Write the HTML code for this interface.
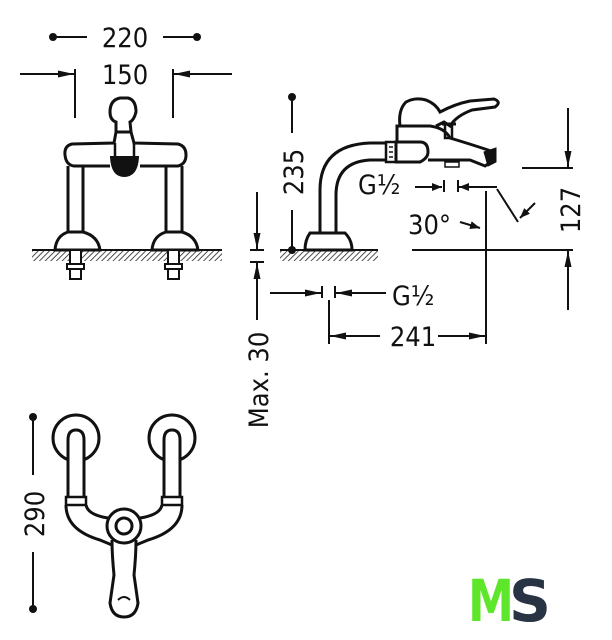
<!DOCTYPE html>
<html><head><meta charset="utf-8"><style>
html,body{margin:0;padding:0;background:#fff;width:612px;height:640px;overflow:hidden}
svg{display:block}
text{font-family:"DejaVu Sans Condensed","Liberation Sans",sans-serif;fill:#111}
</style></head><body>
<svg width="612" height="640" viewBox="0 0 612 640" xmlns="http://www.w3.org/2000/svg">
<defs>
<pattern id="h" width="4" height="4" patternUnits="userSpaceOnUse" patternTransform="rotate(45)">
<line x1="0" y1="0" x2="0" y2="4" stroke="#222" stroke-width="1.6"/></pattern>
<marker id="a" markerWidth="10" markerHeight="8" refX="10" refY="4" orient="auto" markerUnits="userSpaceOnUse"><path d="M0,0 L10,4 L0,8z" fill="#111"/></marker>
<marker id="b" markerWidth="16" markerHeight="8" refX="16" refY="4" orient="auto" markerUnits="userSpaceOnUse"><path d="M0,0.5 L16,4 L0,7.5z" fill="#111"/></marker>
</defs>
<g stroke="#111" stroke-width="2" fill="none">
<line x1="53" y1="37" x2="87" y2="37"/><line x1="163" y1="37" x2="197" y2="37"/>
<line x1="75" y1="69" x2="75" y2="118"/><line x1="173" y1="69" x2="173" y2="118"/>
<line x1="20" y1="74" x2="74" y2="74" marker-end="url(#b)"/>
<line x1="232" y1="74" x2="174" y2="74" marker-end="url(#b)"/>
<path d="M110,112 Q110,100 120,98 L128,98 Q136,100 136,112 Q134,120 130,122 L131,132 L116,132 L116,122 Q110,120 110,112z" stroke-width="3"/>
<path d="M116,132 L114,143 L72,144 Q64,146 65,155 Q66,165 74,166 L110,166 M140,166 L178,166 Q186,164 186,155 Q186,146 178,144 L134,143 L131,132" stroke-width="3"/>
<path d="M111,157 Q112,176 124,176 Q137,176 138,157z" fill="#111"/>
<path d="M115,143 L115,157 M134,143 L134,157" stroke-width="2.5"/>
<path d="M68,166 L68,232 M83,166 L83,232 M166,166 L166,232 M182,166 L182,232" stroke-width="3"/>
<path d="M68,232 L83,232 Q98,236 100,250 L55,250 Q56,236 68,232z M166,232 L182,232 Q196,236 198,250 L152,250 Q153,236 166,232z" stroke-width="3"/>
<rect x="32" y="250" width="190" height="11" fill="url(#h)" stroke="none"/>
<line x1="32" y1="250" x2="222" y2="250" stroke-width="2"/>
<rect x="70" y="250" width="11" height="14" fill="#fff"/><rect x="67" y="264" width="17" height="5" fill="#fff"/><rect x="70" y="269" width="11" height="10" fill="#fff"/>
<rect x="168" y="250" width="11" height="14" fill="#fff"/><rect x="165" y="264" width="17" height="5" fill="#fff"/><rect x="168" y="269" width="11" height="10" fill="#fff"/>
<line x1="257" y1="192" x2="257" y2="249" marker-end="url(#b)"/>
<line x1="250" y1="250" x2="264" y2="250"/><line x1="250" y1="262" x2="264" y2="262"/>
<line x1="257" y1="320" x2="257" y2="263" marker-end="url(#b)"/>
<line x1="292" y1="97" x2="292" y2="133"/><line x1="292" y1="210" x2="292" y2="250"/>
<rect x="280" y="250" width="98" height="11" fill="url(#h)" stroke="none"/>
<line x1="280" y1="250" x2="378" y2="250"/>
<path d="M310,233 L345,233 Q352,240 352,250 L305,250 Q305,240 310,233z" stroke-width="3"/>
<path d="M320,233 L320,190 Q320,145 370,143 L386,143 M336,233 L336,195 Q336,162 370,160 L386,160" stroke-width="3"/>
<rect x="386" y="142" width="10" height="20" stroke-width="2.5"/>
<path d="M389,147 L393,147 M389,152 L393,152 M389,157 L393,157" stroke-width="1.5"/>
<path d="M396,142 L396,162 L420,162 Q428,158 428,152 Q428,142 420,142z" stroke-width="3"/>
<path d="M397,142 L397,126 L430,126 Q445,128 450,138 Q470,144 488,150 Q496,154 494,160 L485,166 L470,160 L428,160" stroke-width="3"/>
<path d="M400,126 Q398,110 406,102 Q415,97 426,100 Q436,104 440,112 Q455,104 470,101 L494,99 Q502,102 495,107 L472,110 Q456,116 450,126 L444,122 L436,126" stroke-width="3"/>
<rect x="445" y="124" width="7" height="14" stroke-width="2.5"/><line x1="442" y1="124" x2="456" y2="124" stroke-width="3"/>
<path d="M484,152 L496,148 L496,162 L488,166z" fill="#111" stroke-width="1"/>
<rect x="445" y="162" width="14" height="5" stroke-width="1.5"/>
<line x1="415" y1="187" x2="442" y2="187" marker-end="url(#a)"/>
<line x1="444" y1="180" x2="444" y2="192"/><line x1="458" y1="180" x2="458" y2="192"/>
<line x1="497" y1="187" x2="459" y2="187" marker-end="url(#a)"/>
<line x1="486" y1="191" x2="486" y2="344"/>
<line x1="497" y1="189" x2="518" y2="222"/>
<line x1="535" y1="203" x2="520" y2="218" marker-end="url(#a)"/>
<line x1="460" y1="222" x2="480" y2="228" marker-end="url(#a)"/>
<line x1="522" y1="168" x2="573" y2="168"/>
<line x1="568" y1="108" x2="568" y2="167" marker-end="url(#b)"/>
<line x1="412" y1="250" x2="573" y2="250"/>
<line x1="568" y1="310" x2="568" y2="251" marker-end="url(#b)"/>
<line x1="270" y1="293" x2="321" y2="293" marker-end="url(#b)"/>
<line x1="322" y1="286" x2="322" y2="298"/><line x1="335" y1="286" x2="335" y2="298"/>
<line x1="386" y1="293" x2="336" y2="293" marker-end="url(#b)"/>
<line x1="329" y1="300" x2="329" y2="344"/>
<line x1="380" y1="336" x2="330" y2="336" marker-end="url(#b)"/>
<line x1="438" y1="336" x2="485" y2="336" marker-end="url(#b)"/>
<line x1="33" y1="417" x2="33" y2="475"/><line x1="33" y1="552" x2="33" y2="609"/>
<circle cx="76" cy="438" r="23" stroke-width="3"/><circle cx="172" cy="438" r="23" stroke-width="3"/>
<path d="M68,497 L68,440 Q68,430 76,430 Q84,430 84,440 L84,497 M164,497 L164,440 Q164,430 172,430 Q180,430 180,440 L180,497" stroke-width="3" fill="#fff"/>
<rect x="66" y="497" width="20" height="8" stroke-width="2.5" fill="#fff"/><rect x="162" y="497" width="20" height="8" stroke-width="2.5" fill="#fff"/>
<path d="M66,505 Q66,530 100,540 L112,545 M86,505 Q88,515 108,518 M182,505 Q182,530 148,540 L136,545 M162,505 Q160,515 140,518" stroke-width="3"/>
<path d="M112,540 Q112,555 114,575 L110,603 Q112,617 124,617 Q136,617 138,603 L134,575 Q136,555 136,540" stroke-width="3" fill="#fff"/>
<path d="M118,600 Q124,594 130,600" stroke-width="2"/>
<circle cx="124" cy="526" r="17" stroke-width="3" fill="#fff"/><circle cx="124" cy="526" r="8" stroke-width="3"/>
</g>
<g fill="#111">
<circle cx="53" cy="37" r="4"/><circle cx="197" cy="37" r="4"/>
<circle cx="292" cy="97" r="4"/><circle cx="292" cy="250" r="4"/>
<circle cx="33" cy="417" r="4"/><circle cx="33" cy="609" r="4"/>
</g>
<g font-size="27">
<text x="125" y="47" text-anchor="middle">220</text>
<text x="125" y="84" text-anchor="middle">150</text>
<text x="413" y="346" text-anchor="middle">241</text>
<text x="408" y="234">30°</text>
<text x="358" y="194">G½</text>
<text x="392" y="305">G½</text>
<text transform="translate(303,172) rotate(-90)" text-anchor="middle">235</text>
<text transform="translate(580,210) rotate(-90)" text-anchor="middle">127</text>
<text transform="translate(268,380) rotate(-90)" text-anchor="middle">Max. 30</text>
<text transform="translate(44,514) rotate(-90)" text-anchor="middle">290</text>
</g>
<text x="468" y="621" font-family="Liberation Sans,sans-serif" font-weight="bold" font-size="58" style="fill:#5de62a" textLength="46" lengthAdjust="spacingAndGlyphs">M</text>
<text x="509" y="621" font-family="Liberation Sans,sans-serif" font-weight="bold" font-size="58" style="fill:#283344" textLength="42" lengthAdjust="spacingAndGlyphs">S</text>
</svg>
</body></html>
